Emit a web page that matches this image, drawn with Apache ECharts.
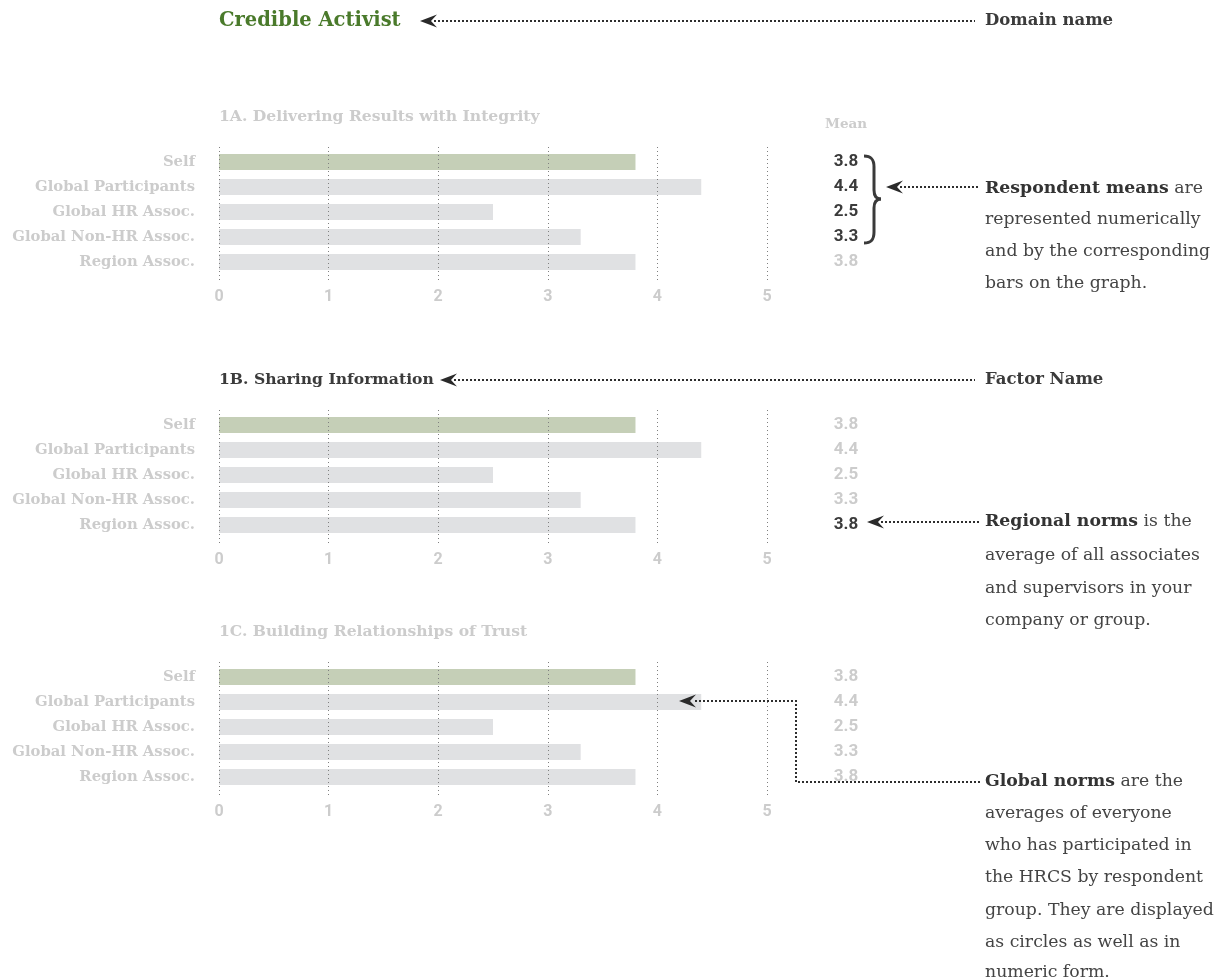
<!DOCTYPE html>
<html>
<head>
<meta charset="utf-8">
<script src="https://cdn.jsdelivr.net/npm/echarts@6/dist/echarts.min.js"></script>
<style>
  html, body { margin: 0; padding: 0; background: #ffffff; }
  #chart { width: 1223px; height: 980px; }
</style>
</head>
<body>
<div id="chart"></div>
<script>
// ---- data ----
const domainName = 'Credible Activist';
const factorNames = [
  '1A. Delivering Results with Integrity',
  '1B. Sharing Information',
  '1C. Building Relationships of Trust'
];
const groups = ['Self', 'Global Participants', 'Global HR Assoc.', 'Global Non-HR Assoc.', 'Region Assoc.'];
const meansA = [3.8, 4.4, 2.5, 3.3, 3.8];
const meansB = [3.8, 4.4, 2.5, 3.3, 3.8];
const meansC = [3.8, 4.4, 2.5, 3.3, 3.8];
const scaleTicks = [0, 1, 2, 3, 4, 5];

// ---- presentation ----
const factorMeans = [meansA, meansB, meansC];
const SERIF = '"DejaVu Serif", serif';
const SANS = 'Roboto, "Liberation Sans", sans-serif';
const DARK = '#3b3b3b';
const LIGHT = '#cccccc';
const GREEN = '#4a7a2b';
const SELF_BAR = '#c5cfb7';
const OTHER_BAR = '#e0e1e3';

const panelTop = [149.5, 412.5, 664.5];
const rowH = 25;
const plotLeft = 219, plotWidth = 548;
const titleDark = [false, true, false];
const meanDark = [[1, 1, 1, 1, 0], [0, 0, 0, 0, 1], [0, 0, 0, 0, 0]];

const grids = [], xAxes = [], yAxes = [], series = [];
factorMeans.forEach((vals, p) => {
  grids.push({ left: plotLeft, width: plotWidth, top: panelTop[p], height: rowH * groups.length, containLabel: false });
  xAxes.push({
    gridIndex: p, type: 'value', min: scaleTicks[0], max: scaleTicks[scaleTicks.length - 1], interval: 1,
    offset: 5.5, z: 10,
    axisLine: { show: false },
    axisTick: { show: true, inside: true, length: 133, lineStyle: { color: '#808080', width: 1, type: [1, 3] } },
    splitLine: { show: false },
    axisLabel: { color: LIGHT, fontFamily: SANS, fontWeight: 'bold', fontSize: 16, margin: 9 }
  });
  yAxes.push({
    gridIndex: p, type: 'category', data: groups, inverse: true,
    axisLine: { show: false }, axisTick: { show: false }, splitLine: { show: false },
    axisLabel: { color: LIGHT, fontFamily: SERIF, fontWeight: 'bold', fontSize: 14.8, margin: 24 }
  });
  yAxes.push({
    gridIndex: p, type: 'category', data: groups, inverse: true, position: 'right',
    axisLine: { show: false }, axisTick: { show: false }, splitLine: { show: false },
    axisLabel: {
      align: 'center', margin: 79,
      formatter: (v, i) => '{' + (meanDark[p][i] ? 'd' : 'l') + '|' + vals[i].toFixed(1) + '}',
      rich: {
        d: { color: DARK, fontFamily: SANS, fontWeight: 'bold', fontSize: 17 },
        l: { color: LIGHT, fontFamily: SANS, fontWeight: 'bold', fontSize: 17 }
      }
    }
  });
  series.push({
    type: 'bar', xAxisIndex: p, yAxisIndex: p * 2, barWidth: 16, silent: true,
    data: vals.map((v, i) => ({ value: v, itemStyle: { color: i === 0 ? SELF_BAR : OTHER_BAR } }))
  });
});

// ---- annotation helpers ----
const graphics = [];
const Z = 100;
function txt(x, y, text, opts) {
  graphics.push({
    type: 'text', x: x, y: y, z: Z, silent: true,
    style: Object.assign({ text: text, verticalAlign: 'middle', fill: DARK, font: '15px ' + SERIF }, opts || {})
  });
}
function richLine(x, y, text) {
  graphics.push({
    type: 'text', x: x, y: y, z: Z, silent: true,
    style: {
      text: text, verticalAlign: 'middle', fill: '#444444', font: '17.3px ' + SERIF,
      rich: { b: { fontWeight: 'bold', fontFamily: SERIF, fontSize: 17.3, fill: '#333333' } }
    }
  });
}
function arrow(points, tipX, tipY) {
  graphics.push({
    type: 'polyline', z: Z, silent: true,
    shape: { points: points },
    style: { stroke: '#2e2e2e', lineWidth: 2, lineDash: [2, 2], fill: null }
  });
  graphics.push({
    type: 'polygon', z: Z, silent: true,
    shape: { points: [[tipX, tipY], [tipX + 17, tipY - 6.5], [tipX + 11, tipY], [tipX + 17, tipY + 6.5]] },
    style: { fill: '#2a2a2a' }
  });
}
function curve(x1, y1, c1x, c1y, c2x, c2y, x2, y2) {
  graphics.push({
    type: 'bezierCurve', z: Z, silent: true,
    shape: { x1: x1, y1: y1, cpx1: c1x, cpy1: c1y, cpx2: c2x, cpy2: c2y, x2: x2, y2: y2 },
    style: { stroke: '#3a3a3a', lineWidth: 3, fill: null }
  });
}
function seg(x1, y1, x2, y2) {
  graphics.push({
    type: 'line', z: Z, silent: true,
    shape: { x1: x1, y1: y1, x2: x2, y2: y2 },
    style: { stroke: '#3a3a3a', lineWidth: 3 }
  });
}

// domain heading
txt(plotLeft, 21, domainName, { fill: GREEN, font: 'bold 19.5px ' + SERIF });
arrow([[434, 21], [975, 21]], 420, 21);
txt(985, 21, 'Domain name', { font: 'bold 16.5px ' + SERIF });

// factor headings
factorNames.forEach((name, p) => {
  txt(plotLeft, panelTop[p] - 32.5, name, { fill: titleDark[p] ? DARK : LIGHT, font: 'bold 15.6px ' + SERIF });
});
arrow([[454, 380], [975, 380]], 440, 380);
txt(985, 380, 'Factor Name', { font: 'bold 16.5px ' + SERIF });

// mean column header
txt(846, 124.5, 'Mean', { fill: LIGHT, font: 'bold 13.5px ' + SERIF, align: 'center' });

// brace around the respondent means
curve(864, 156, 871, 156, 874, 159, 874, 167);
seg(874, 167, 874, 190);
curve(874, 190, 874, 196, 876, 199, 881, 199);
curve(881, 199, 876, 199, 874, 202, 874, 208);
seg(874, 208, 874, 232);
curve(874, 232, 874, 240, 871, 243, 864, 243);

arrow([[900, 187], [980, 187]], 886, 187);
richLine(985, 189, '{b|Respondent means} are');
richLine(985, 220, 'represented numerically');
richLine(985, 252, 'and by the corresponding');
richLine(985, 284, 'bars on the graph.');

// regional norms note
arrow([[881, 522], [980, 522]], 867, 522);
richLine(985, 522, '{b|Regional norms} is the');
richLine(985, 556, 'average of all associates');
richLine(985, 589, 'and supervisors in your');
richLine(985, 621, 'company or group.');

// global norms note
arrow([[980, 782], [796, 782], [796, 701], [694, 701]], 679, 701);
richLine(985, 782, '{b|Global norms} are the');
richLine(985, 814, 'averages of everyone');
richLine(985, 846, 'who has participated in');
richLine(985, 878, 'the HRCS by respondent');
richLine(985, 911, 'group. They are displayed');
richLine(985, 943, 'as circles as well as in');
richLine(985, 973, 'numeric form.');

const chart = echarts.init(document.getElementById('chart'), null, { renderer: 'canvas' });
chart.setOption({
  animation: false,
  backgroundColor: '#ffffff',
  grid: grids,
  xAxis: xAxes,
  yAxis: yAxes,
  series: series,
  graphic: { elements: graphics }
});
</script>
</body>
</html>
